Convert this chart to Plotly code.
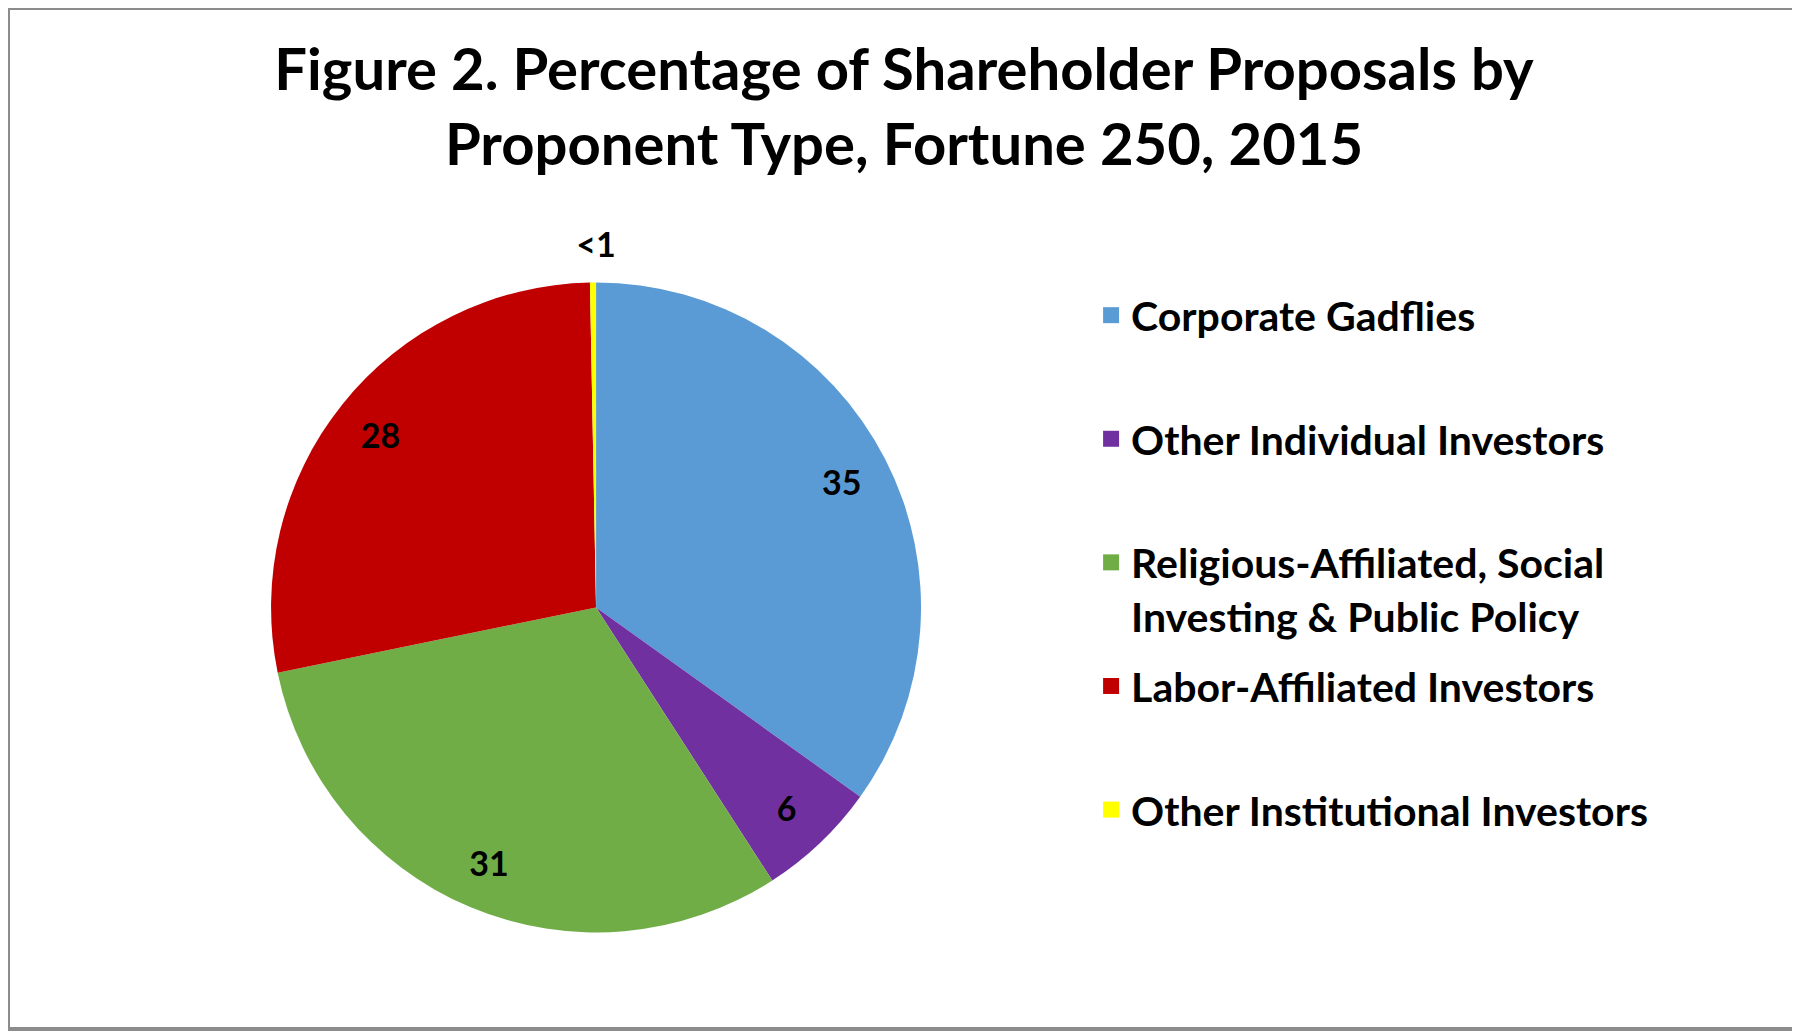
import plotly.graph_objects as go

# proponent types, in the order they go round the pie (clockwise from 12 o'clock)
proponents = [
    "Corporate Gadflies",
    "Other Individual Investors",
    "Religious-Affiliated, Social<br>Investing & Public Policy",
    "Labor-Affiliated Investors",
    "Other Institutional Investors",
]
pct = [35, 6, 31, 28, 0.3]
pct_labels = ["35", "6", "31", "28", "<1"]
slice_colors = ["#5B9BD5", "#7030A0", "#70AD47", "#C00000", "#FFFF00"]

FONT = "Lato"
W, H = 1792, 1024
# domain is a bit taller than wide: the top part is taken by the "<1" label
pie_dom = dict(x=[0.1468, 0.5095], y=[0.0967, 0.7725])
lbl_font = dict(family=FONT, size=34, color="black", weight="bold")
# small base size + big span -> label lifted a little off the rim
tiny_lbl = "<span style='font-size:34px'>" + pct_labels[4] + "</span>"

fig = go.Figure()

# the pie itself
fig.add_trace(go.Pie(
    labels=proponents,
    values=pct,
    textinfo="none",
    marker=dict(colors=slice_colors, line=dict(width=0)),
    sort=False,
    direction="clockwise",
    rotation=0,
    domain=pie_dom,
    title=dict(text=tiny_lbl, position="top center",
               font=dict(family=FONT, size=16, color="rgba(0,0,0,0)", weight="bold")),
    showlegend=False,
))

# transparent ring on top so the inside labels sit near the rim
fig.add_trace(go.Pie(
    labels=proponents,
    values=pct,
    text=pct_labels[:4] + [""],
    textinfo="text",
    textposition=["inside", "inside", "inside", "inside", "none"],
    insidetextorientation="horizontal",
    insidetextfont=lbl_font,
    marker=dict(colors=["rgba(0,0,0,0)"] * 5, line=dict(width=0)),
    hole=0.7,
    sort=False,
    direction="clockwise",
    rotation=0,
    domain=pie_dom,
    title=dict(text=tiny_lbl, position="top center",
               font=dict(family=FONT, size=16, color="black", weight="bold")),
    showlegend=False,
    hoverinfo="skip",
))

# legend entries (one slot of two lines each, like the original)
for name, col in zip(proponents, slice_colors):
    lbl = name if "<br>" in name else name + "<br> "
    fig.add_trace(go.Scatter(
        x=[None], y=[None], mode="markers",
        marker=dict(symbol="square", size=16, color=col),
        name=lbl, legendgroup=lbl, showlegend=True,
    ))

fig.update_layout(
    width=W, height=H,
    margin=dict(l=0, r=0, t=0, b=0),
    paper_bgcolor="white", plot_bgcolor="white",
    xaxis=dict(visible=False), yaxis=dict(visible=False),
    title=dict(
        text="Figure 2. Percentage of Shareholder Proposals by<br>Proponent Type, Fortune 250, 2015",
        x=0.5, xanchor="center", y=0.920, yanchor="top",
        font=dict(family=FONT, size=58, color="black", weight="bold"),
    ),
    legend=dict(
        x=0.6044, xanchor="left", y=0.7324, yanchor="top",
        traceorder="grouped", tracegroupgap=14, valign="top",
        font=dict(family=FONT, size=41, color="black", weight="bold"),
        bgcolor="rgba(0,0,0,0)",
    ),
    shapes=[dict(type="rect", xref="paper", yref="paper", x0=0, y0=0.0029, x1=0.9972, y1=1,
                 line=dict(color="#8c8c8c", width=4))],
)

fig.write_html("out.html")
